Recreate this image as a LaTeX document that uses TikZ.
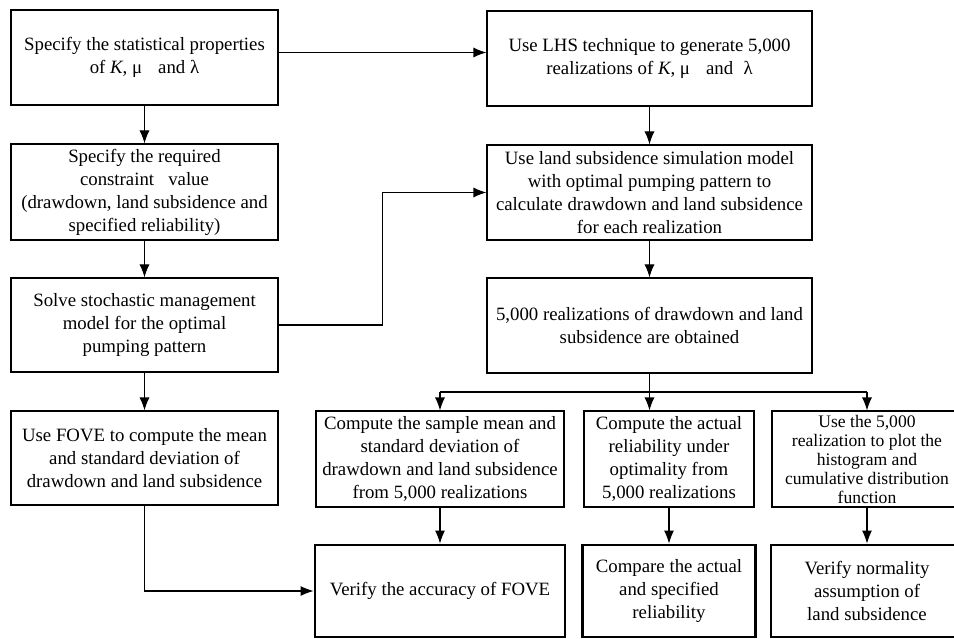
\documentclass[tikz,border=0pt]{standalone}
\usepackage{fontspec}
\setmainfont{Liberation Serif}
\usepackage{tikz}
\usetikzlibrary{arrows.meta,calc}
\tikzset{stp/.style={draw,line width=1.1pt,align=center,inner sep=2pt,font=\fontsize{18.8}{23}\selectfont},fin/.style={stp,line width=2.8pt},lnk/.style={line width=1.1pt,-{Latex[length=13pt,width=10pt]}}}

\begin{document}
\begin{tikzpicture}[x=1pt,y=-1pt]
\useasboundingbox (0,0) rectangle (954,639);
% left column
\node[stp,minimum width=267,minimum height=95] (a1) at (144.5,57.5) {Specify the statistical properties\\of \textit{K}, μ\hspace{0.6em} and λ};
\node[stp,minimum width=267,minimum height=96] (a2) at (144.5,192) {Specify the required\\constraint\hspace{0.5em} value\\(drawdown, land subsidence and\\specified reliability)};
\node[stp,minimum width=267,minimum height=94] (a3) at (144.5,325) {Solve stochastic management\\model for the optimal\\pumping pattern};
\node[stp,minimum width=267,minimum height=94] (a4) at (144.5,458) {Use FOVE to compute the mean\\and standard deviation of\\drawdown and land subsidence};
% right column
\node[stp,minimum width=325,minimum height=95] (b1) at (649.5,58.5) {Use LHS technique to generate 5,000\\realizations of \textit{K}, μ\hspace{0.6em} and\hspace{0.3em} λ};
\node[stp,minimum width=325,minimum height=95] (b2) at (649.5,192.5) {Use land subsidence simulation model\\with optimal pumping pattern to\\calculate drawdown and land subsidence\\for each realization};
\node[stp,minimum width=325,minimum height=95] (b3) at (649.5,325.5) {5,000 realizations of drawdown and land\\subsidence are obtained};
% checks
\node[stp,minimum width=248,minimum height=96] (c1) at (440,459) {Compute the sample mean and\\standard deviation of\\drawdown and land subsidence\\from 5,000 realizations};
\node[stp,minimum width=170,minimum height=96] (c2) at (669,459) {Compute the actual\\reliability under\\optimality from\\5,000 realizations};
\node[stp,minimum width=190,minimum height=96,font=\fontsize{17.6}{19}\selectfont] (c3) at (867,459) {Use the 5,000\\realization to plot the\\histogram and\\cumulative distribution\\function};
\node[fin,minimum width=250,minimum height=92] (d1) at (440,591) {Verify the accuracy of FOVE};
\node[fin,minimum width=173,minimum height=92] (d2) at (669,591) {Compare the actual\\and specified\\reliability};
\node[fin,minimum width=192,minimum height=92] (d3) at (867,591) {Verify normality\\assumption of\\land subsidence};
% links
\draw[lnk] ([yshift=5pt]a1.east) -- ([yshift=5pt]a1.east -| b1.west);
\draw[lnk] (a1) -- (a2);
\draw[lnk] (a2) -- (a3);
\draw[lnk] (a3) -- (a4);
\draw[lnk] (a3.east) -| ($(a3.east)!.5!(b2.west)$) |- (b2.west);
\draw[lnk] (b1) -- (b2);
\draw[lnk] (b2) -- (b3);
\coordinate (br) at (649,392);
\draw[line width=1.1pt] (c1.north |- br) -- (c3.north |- br);
\draw[lnk] (b3) -- (b3.south |- c2.north);
\draw[lnk] (c1.north |- br) -- (c1.north);
\draw[lnk] (c3.north |- br) -- (c3.north);
\draw[lnk] (c1) -- (d1);
\draw[lnk] (c2) -- (d2);
\draw[lnk] (c3) -- (d3);
\draw[lnk] (a4) |- (d1);
\end{tikzpicture}
\end{document}
